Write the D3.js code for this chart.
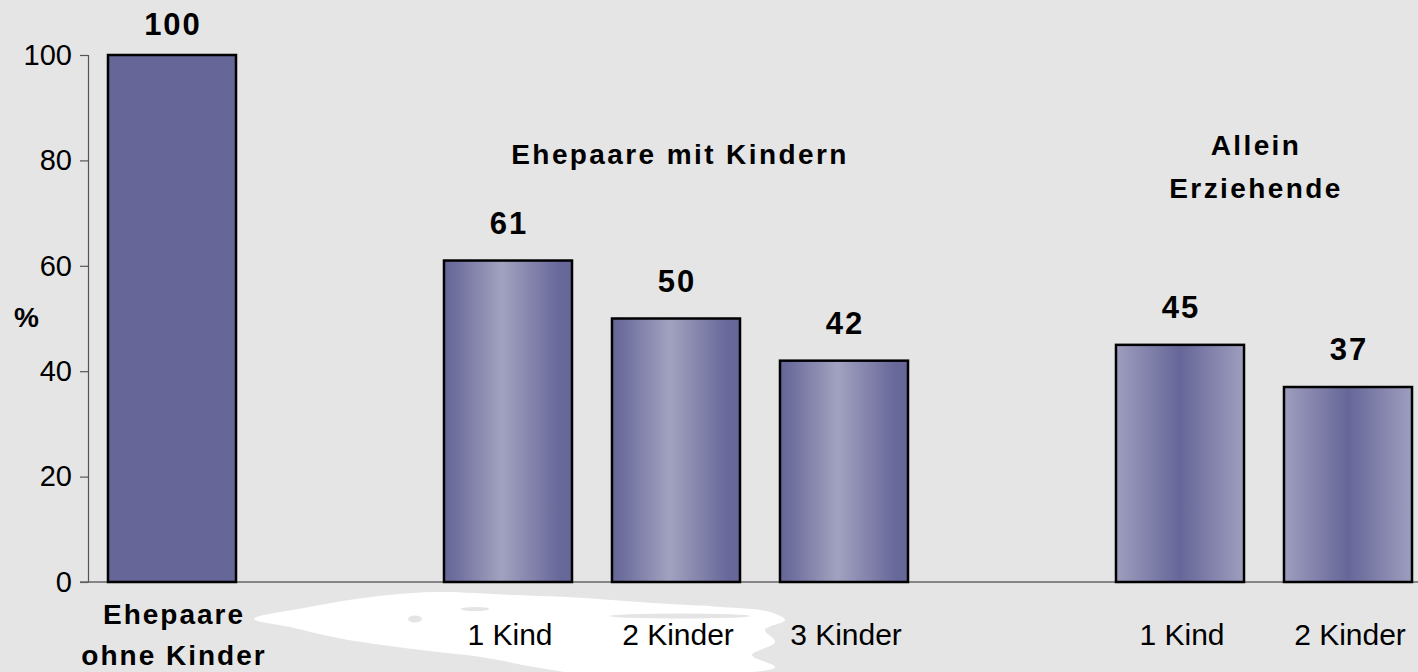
<html>
  <head>
    <title>Ehepaare und Allein Erziehende</title>
    <meta charset="utf-8" />
    <script src="https://cdnjs.cloudflare.com/ajax/libs/d3/7.6.1/d3.min.js"></script>
    <style>
      body { margin: 0; background: #e5e5e5; }
      svg { display: block; font-family: "Liberation Sans", Arial, sans-serif; }
    </style>
  </head>
  <body>
    <svg width="1418" height="672"></svg>
  </body>

  <script>
    // slots of the category axis; the empty ones leave the gaps between groups
    const slots = ["ohne", "gap1", "mk1", "mk2", "mk3", "gap2", "ae1", "ae2"];
    const barKeys = ["ohne", "mk1", "mk2", "mk3", "ae1", "ae2"];
    const barGroups = ["ohne", "mit", "mit", "mit", "allein", "allein"];
    const barLabels = [["Ehepaare", "ohne Kinder"], ["1 Kind"], ["2 Kinder"], ["3 Kinder"], ["1 Kind"], ["2 Kinder"]];
    const values = [100, 61, 50, 42, 45, 37];
    const yTicks = [0, 20, 40, 60, 80, 100];
    const groupKeys = ["mit", "allein"];
    const groupTitles = [["Ehepaare mit Kindern"], ["Allein", "Erziehende"]];

    // rough outline of the white brush stroke under the axis (decoration)
    const splash = [[254, 619], [309, 607], [371, 597], [433, 592], [515, 595], [584, 598], [653, 603],
      [722, 607], [770, 612], [785, 620], [765, 630], [775, 642], [752, 655], [775, 667],
      [700, 675], [600, 676], [540, 668], [481, 657], [429, 651], [343, 639], [290, 627]];
    // grey streaks inside the brush stroke: [cx, cy, rx, ry]
    const streaks = [[415, 619, 7, 3.5], [475, 609, 14, 2], [705, 601, 18, 2.5], [680, 616, 70, 2.5]];

    const bars = barKeys.map((k, i) => ({ key: k, group: barGroups[i], label: barLabels[i], value: values[i] }));

    const svg = d3.select("svg");
    const font = "'Liberation Sans', Arial, sans-serif";

    const x = d3.scaleBand().domain(slots).range([88, 1432]).paddingInner(0.238).paddingOuter(0.119);
    const y = d3.scaleLinear().domain([0, 100]).range([582, 55]);

    // gradients
    const defs = svg.append("defs");
    const g1 = defs.append("linearGradient").attr("id", "gradMit");
    [[0, "#666699"], [0.06, "#6b6b9c"], [0.45, "#a2a2c0"], [0.9, "#68689a"], [1, "#666699"]]
      .forEach(s => g1.append("stop").attr("offset", s[0]).attr("stop-color", s[1]));
    const g2 = defs.append("linearGradient").attr("id", "gradAllein");
    [[0, "#9e9ebe"], [0.5, "#666699"], [1, "#9e9ebe"]]
      .forEach(s => g2.append("stop").attr("offset", s[0]).attr("stop-color", s[1]));
    const fills = { ohne: "#666699", mit: "url(#gradMit)", allein: "url(#gradAllein)" };

    svg.append("path")
      .attr("d", d3.line().curve(d3.curveCatmullRomClosed.alpha(0.5))(splash))
      .attr("fill", "#ffffff");
    svg.selectAll("ellipse.streak")
      .data(streaks)
      .enter()
      .append("ellipse")
      .attr("class", "streak")
      .attr("cx", d => d[0]).attr("cy", d => d[1])
      .attr("rx", d => d[2]).attr("ry", d => d[3])
      .attr("fill", "#e4e4e4");

    // y axis
    const yAxis = d3.axisLeft(y).tickValues(yTicks).tickSize(8).tickPadding(8);
    const ya = svg.append("g").attr("transform", "translate(88,0)").call(yAxis);
    ya.select(".domain").attr("stroke", "#555").attr("stroke-width", 1.2);
    ya.selectAll(".tick line").attr("stroke", "#555").attr("stroke-width", 1.2);
    ya.selectAll(".tick text").attr("font-family", font).attr("font-size", 29).attr("fill", "#000");

    // baseline
    svg.append("line")
      .attr("x1", 80).attr("x2", 1418)
      .attr("y1", y(0)).attr("y2", y(0))
      .attr("stroke", "#666").attr("stroke-width", 1.5);

    svg.append("text")
      .attr("x", 14).attr("y", 327)
      .attr("font-size", 28).attr("font-weight", "bold")
      .text("%");

    // bars
    svg.selectAll("rect.bar")
      .data(bars)
      .enter()
      .append("rect")
      .attr("class", "bar")
      .attr("x", d => x(d.key))
      .attr("width", x.bandwidth())
      .attr("y", d => y(d.value))
      .attr("height", d => y(0) - y(d.value))
      .attr("fill", d => fills[d.group])
      .attr("stroke", "#000")
      .attr("stroke-width", 2.5);

    // value labels
    svg.selectAll("text.value")
      .data(bars)
      .enter()
      .append("text")
      .attr("class", "value")
      .attr("x", d => x(d.key) + x.bandwidth() / 2 + 1)
      .attr("y", d => Math.max(y(d.value) - 27, 35))
      .attr("text-anchor", "middle")
      .attr("font-size", 31)
      .attr("font-weight", "bold")
      .attr("letter-spacing", 2)
      .text(d => d.value);

    // category labels
    const cat = svg.selectAll("text.cat")
      .data(bars)
      .enter()
      .append("text")
      .attr("class", "cat")
      .attr("text-anchor", "middle")
      .attr("font-size", d => d.group === "ohne" ? 28 : 30)
      .attr("font-weight", d => d.group === "ohne" ? "bold" : "normal")
      .attr("letter-spacing", d => d.group === "ohne" ? 2 : 0);
    cat.selectAll("tspan")
      .data(d => d.label.map(t => ({ t, d })))
      .enter()
      .append("tspan")
      .attr("x", o => x(o.d.key) + x.bandwidth() / 2 + 2)
      .attr("y", (o, i) => o.d.group === "ohne" ? 624 + i * 41 : 645)
      .text(o => o.t);

    // group titles
    groupKeys.forEach((gk, gi) => {
      const members = bars.filter(b => b.group === gk);
      const cx = d3.mean(members, b => x(b.key) + x.bandwidth() / 2);
      const lines = groupTitles[gi];
      const top = lines.length > 1 ? 155 : 164;
      const t = svg.append("text")
        .attr("text-anchor", "middle")
        .attr("font-size", 28)
        .attr("font-weight", "bold")
        .attr("letter-spacing", 2.4);
      lines.forEach((line, li) => {
        t.append("tspan")
          .attr("x", cx + (lines.length > 1 ? -8 : 4))
          .attr("y", top + li * 43)
          .text(line);
      });
    });
  </script>
</html>
